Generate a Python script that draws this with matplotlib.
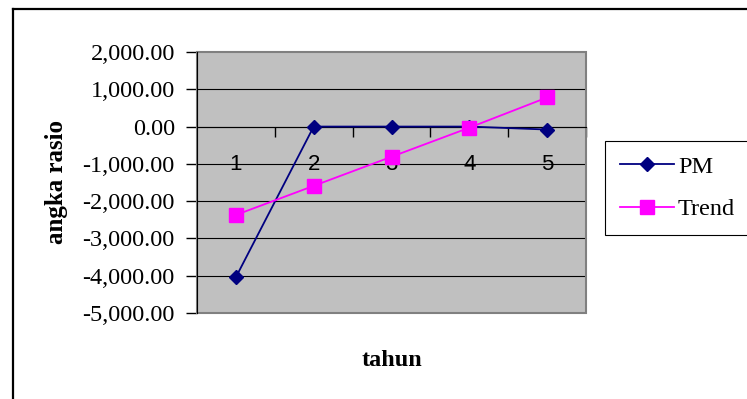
import matplotlib
matplotlib.use('Agg')
import matplotlib.pyplot as plt
from matplotlib.lines import Line2D
from matplotlib.patches import Rectangle
from matplotlib.ticker import FuncFormatter, FixedLocator

# data per tahun
tahun = [1, 2, 3, 4, 5]
pm = [-4040, 0, 0, 0, -80]
trend = [-2370, -1590, -810, -30, 780]

serif = 'Liberation Serif'
sans = 'Liberation Sans'

fig = plt.figure(figsize=(7.47, 3.99), dpi=100)
ax = fig.add_axes([197 / 747, 1 - 313 / 399, 389 / 747, 261 / 399])
ax.set_facecolor('#c0c0c0')

ax.plot(tahun, pm, color='#000080', lw=1.3, marker='D', ms=7.5,
        mfc='#000080', mec='#000080', label='PM', zorder=4)
ax.plot(tahun, trend, color='#ff00ff', lw=1.3, marker='s', ms=9.5,
        mfc='#ff00ff', mec='#ff00ff', label='Trend', zorder=4)

ax.set_xlim(0.5, 5.5)
ax.set_ylim(-5000, 2000)
ax.set_yticks(range(-5000, 2001, 1000))
ax.yaxis.set_major_formatter(FuncFormatter(lambda v, p: f'{v:,.2f}'))
ax.tick_params(axis='y', direction='out', length=8, width=1, pad=8,
               labelsize=17.5, labelfontfamily=serif)

# category axis crosses at zero: ticks between categories, labels on categories
ax.spines['bottom'].set_position(('data', 0))
ax.xaxis.set_major_locator(FixedLocator([1.5, 2.5, 3.5, 4.5, 5.5]))
ax.xaxis.set_major_formatter(FuncFormatter(lambda v, p: ''))
ax.xaxis.set_minor_locator(FixedLocator(tahun))
ax.xaxis.set_minor_formatter(FuncFormatter(lambda v, p: f'{int(v)}'))
ax.tick_params(axis='x', which='major', direction='out', length=7, width=1)
ax.tick_params(axis='x', which='minor', length=0, pad=20,
               labelsize=16, labelfontfamily=sans)

ax.grid(axis='y', color='black', lw=0.8)
gl = ax.get_ygridlines()
gl[0].set_visible(False)
gl[-1].set_visible(False)
ax.set_axisbelow(True)

for s in ['top', 'right']:
    ax.spines[s].set_visible(False)
ax.spines['left'].set_color('black')
ax.spines['bottom'].set_color('black')
ax.add_patch(Rectangle((0, 0), 1, 1, transform=ax.transAxes, fill=False,
                       edgecolor='#808080', lw=1.5, zorder=1, clip_on=False))

fig.text(57 / 747, 1 - 182 / 399, 'angka rasio', rotation=90, ha='center',
         va='center', fontsize=18, fontweight='bold', family=serif)
fig.text(392 / 747, 1 - 360 / 399, 'tahun', ha='center', va='center',
         fontsize=17.5, fontweight='bold', family=serif)

leg = fig.legend(loc='upper left', bbox_to_anchor=(605 / 747, 1 - 141 / 399),
                 prop={'family': serif, 'size': 17.5}, frameon=True,
                 fancybox=False, edgecolor='black', framealpha=1,
                 handlelength=2.25, handletextpad=0.15, borderpad=0.6,
                 labelspacing=0.85, borderaxespad=0)
leg.get_frame().set_linewidth(0.8)

# outer chart frame
fx, fy = 13 / 747, 1 - 9 / 399
fig.add_artist(Line2D([fx, fx], [-0.01, fy], color='black', lw=1.6,
                      transform=fig.transFigure))
fig.add_artist(Line2D([fx, 1.01], [fy, fy], color='black', lw=1.6,
                      transform=fig.transFigure))

fig.savefig('out.png', dpi=100)
